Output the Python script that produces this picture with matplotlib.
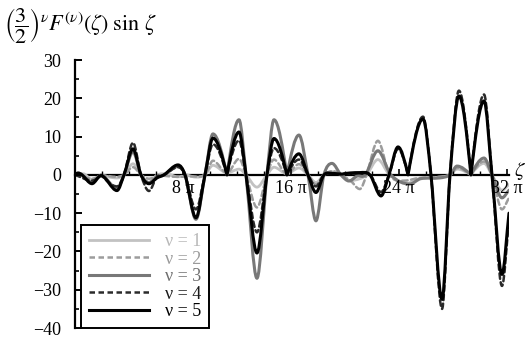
import numpy as np
import matplotlib
matplotlib.use("Agg")
import matplotlib.pyplot as plt
from matplotlib.path import Path
from matplotlib.patches import PathPatch
from matplotlib.lines import Line2D

plt.rcParams["font.family"] = "serif"
plt.rcParams["font.serif"] = ["Liberation Serif", "DejaVu Serif"]
plt.rcParams["mathtext.fontset"] = "stix"

# knots of each curve: zeta in units of pi, value at extrema / zeros
nu1_x = [0, 0.6, 1.26, 1.93, 3.11, 3.63, 4.30, 4.89, 5.48, 6.1, 6.8, 7.6, 8.3, 9.0, 9.63,
         10.22, 11.26, 12.15, 12.67, 13.48, 14.22, 14.74, 15.70, 16.59, 17.26, 17.85, 18.44,
         19.1, 19.7, 20.4, 21.1, 21.6, 22.44, 23.3, 24.6, 25.5, 27.0, 27.78, 28.3, 29.33,
         30.3, 30.89, 31.63, 32.15]
nu1_y = [0, 0.3, -1.2, 0, -0.8, 0, 2.9, 0, -2.0, 0, 0.3, -0.5, 0, -0.6, 0,
         2.5, 0.5, 1.5, 0, -3.2, 0, 2.0, 0.3, 1.8, 0, -2.0, 0,
         0.8, 0, -1.5, -1.0, 0, 4.0, 0, -2.2, -1.0, -0.6, 0, 1.5, 0,
         3.0, 0, -4.0, -2.5]

nu2_x = [0, 1.26, 1.93, 3.11, 3.63, 4.30, 4.89, 5.48, 6.1, 7.6, 8.5, 9.63,
         10.22, 11.26, 12.15, 12.67, 13.48, 14.22, 14.74, 15.70, 16.59, 17.26, 17.85, 18.44,
         19.1, 19.7, 20.4, 21.1, 21.6, 22.44, 23.3, 24.4, 25.5, 27.0, 27.78, 28.3, 29.33,
         30.3, 30.89, 31.63, 32.15]
nu2_y = [0, -1.0, 0, -0.5, 0, 2.0, 0, -1.0, 0, -0.5, -0.4, 0,
         3.7, 0.5, 4.2, 0, -8.5, 0, 4.0, 0.3, 2.8, 0, -2.5, 0,
         1.0, 0, -1.5, -3.7, 0, 8.9, 0, -1.5, -0.8, -0.5, 0, 1.8, 0,
         3.5, 0, -9.0, -6.0]

nu3_x = [0, 0.3, 1.26, 1.93, 3.11, 3.63, 4.30, 4.89, 5.48, 6.07, 6.59, 7.63, 8.15, 8.96, 9.63,
         10.22, 11.26, 12.15, 12.67, 13.48, 14.22, 14.74, 15.70, 16.59, 17.26, 17.85, 18.44,
         19.04, 19.7, 20.3, 20.9, 21.5, 22.44, 23.4, 24.8, 25.6, 27.0, 27.78, 28.3, 29.33,
         30.3, 30.89, 31.63, 32.15]
nu3_y = [0, 0.4, -2.0, -0.2, -3.5, 0, 6.0, 0, -2.0, -0.6, 0, 2.2, 0, -11.6, 0,
         10.7, 0, 14.4, 0, -27.0, 0, 14.4, 0, 10.4, 0, -12.0, 0,
         3.0, 0, -1.6, -0.3, 0, 6.3, 0, -2.4, -1.0, -0.8, 0, 2.3, 0,
         4.4, 0, -6.0, -4.0]

nu4_x = [0, 1.26, 1.93, 3.11, 3.63, 4.30, 4.89, 5.48, 6.07, 6.59, 7.63, 8.15, 8.96, 9.63,
         10.22, 11.26, 12.15, 12.67, 13.48, 14.22, 14.74, 15.70, 16.59, 17.26, 17.85, 18.44,
         19.5, 20.5, 21.85, 22.67, 23.26, 23.93, 24.67, 25.78, 26.37, 27.19, 27.78, 28.44,
         29.33, 30.30, 30.89, 31.63, 32.15]
nu4_y = [0, -1.5, 0, -3.0, 0, 8.4, 0, -4.2, -0.5, 0, 2.0, 0, -9.0, 0,
         8.0, 0, 9.0, 0, -15.0, 0, 7.0, 0, 4.0, 0, -3.0, 0,
         0.3, 0.3, 0, -4.5, 0, 6.8, 0, 15.2, 0, -35.0, 0, 22.0,
         0, 21.0, 0, -29.0, -12.0]

nu5_x = [0, 0.22, 0.52, 1.26, 1.93, 3.11, 3.63, 4.30, 4.89, 5.48, 6.07, 6.59, 7.63, 8.15,
         8.96, 9.63, 10.22, 11.26, 12.15, 12.67, 13.48, 14.22, 14.74, 15.70, 16.59, 17.26,
         17.85, 18.44, 19.04, 19.63, 20.37, 21.11, 21.85, 22.67, 23.26, 23.93, 24.67, 25.78,
         26.37, 27.19, 27.78, 28.44, 29.33, 30.30, 30.89, 31.63, 32.15]
nu5_y = [0, 0.5, 0, -2.3, -0.2, -4.1, 0, 6.8, 0, -2.3, -0.8, 0, 2.6, 0,
         -11.2, 0, 9.6, 0, 11.2, 0, -20.4, 0, 9.5, 0, 5.5, 0,
         -4.6, 0, 0.4, 0.2, 0.5, 0.6, 0, -5.5, 0, 7.3, 0, 14.6,
         0, -32.5, 0, 20.6, 0, 19.3, 0, -26.0, -10.0]

labels = ["ν = 1", "ν = 2", "ν = 3", "ν = 4", "ν = 5"]
series = [(nu1_x, nu1_y), (nu2_x, nu2_y), (nu3_x, nu3_y), (nu4_x, nu4_y), (nu5_x, nu5_y)]
colors = ["#c2c2c2", "#9c9c9c", "#787878", "#2a2a2a", "#000000"]
styles = ["-", (0, (2.2, 1.4)), "-", (0, (2.2, 1.4)), "-"]
widths = [2.0, 1.8, 2.2, 1.8, 2.2]
text_colors = ["#b8b8b8", "#9a9a9a", "#6e6e6e", "#1a1a1a", "#000000"]


def smooth_path(xs, ys):
    # cubic Bezier through the knots, flat at extrema, cusp where the curve touches zero
    xs = np.asarray(xs, float)
    ys = np.asarray(ys, float)
    n = len(xs)
    ml = np.zeros(n)
    mr = np.zeros(n)
    for i in range(n):
        if i == 0:
            ml[i] = mr[i] = (ys[1] - ys[0]) / (xs[1] - xs[0])
        elif i == n - 1:
            ml[i] = mr[i] = (ys[-1] - ys[-2]) / (xs[-1] - xs[-2])
        else:
            a = ys[i] - ys[i - 1]
            b = ys[i + 1] - ys[i]
            if ys[i] == 0 and ys[i - 1] * ys[i + 1] > 0:
                ml[i] = 1.5 * a / (xs[i] - xs[i - 1])
                mr[i] = 1.5 * b / (xs[i + 1] - xs[i])
            elif a * b <= 0:
                ml[i] = mr[i] = 0.0
            else:
                ml[i] = mr[i] = (ys[i + 1] - ys[i - 1]) / (xs[i + 1] - xs[i - 1])
    verts = [(xs[0], ys[0])]
    codes = [Path.MOVETO]
    for i in range(n - 1):
        dx = xs[i + 1] - xs[i]
        verts += [(xs[i] + dx / 3, ys[i] + mr[i] * dx / 3),
                  (xs[i + 1] - dx / 3, ys[i + 1] - ml[i + 1] * dx / 3),
                  (xs[i + 1], ys[i + 1])]
        codes += [Path.CURVE4] * 3
    return Path(verts, codes)


fig = plt.figure(figsize=(5.28, 3.41), dpi=100)
ax = fig.add_axes([0.142, 0.038, 0.822, 0.786])
ax.set_xlim(0, 32.15)
ax.set_ylim(-40, 30)

handles = []
for (xs, ys), c, ls, lw, lab in zip(series, colors, styles, widths, labels):
    patch = PathPatch(smooth_path(xs, ys), facecolor="none", edgecolor=c,
                      linestyle=ls, linewidth=lw, capstyle="round", joinstyle="round")
    ax.add_patch(patch)
    handles.append(Line2D([], [], color=c, linestyle=ls, linewidth=lw))

for s in ["top", "right"]:
    ax.spines[s].set_visible(False)
ax.spines["bottom"].set_position(("data", 0))
ax.spines["left"].set_linewidth(1.6)
ax.spines["bottom"].set_linewidth(1.6)
ax.spines["bottom"].set_zorder(0.5)

ax.set_yticks(range(-40, 31, 10))
ax.set_yticks(range(-35, 30, 10), minor=True)
ax.set_xticks([8, 16, 24, 32])
ax.set_xticklabels(["8 π", "16 π", "24 π", "32 π"])
ax.set_xticks(np.arange(2, 32, 2), minor=True)
ax.tick_params(axis="y", which="major", direction="in", length=5, width=1.4, pad=10, labelsize=13)
ax.tick_params(axis="y", which="minor", direction="in", length=3, width=1.2)
ax.tick_params(axis="x", which="major", direction="in", length=4, width=1.2, pad=4, labelsize=13)
ax.tick_params(axis="x", which="minor", direction="in", length=3, width=1.0)

leg = ax.legend(handles, labels, loc="lower left",
                bbox_to_anchor=(81 / 528, 13 / 341), bbox_transform=fig.transFigure,
                borderaxespad=0, fontsize=13, handlelength=3.3, handletextpad=0.9,
                labelspacing=0.02, borderpad=0.45, fancybox=False, framealpha=1)
leg.get_frame().set_edgecolor("black")
leg.get_frame().set_linewidth(1.4)
for t, c in zip(leg.get_texts(), text_colors):
    t.set_color(c)

fig.text(0.008, 0.925, r"$\left(\dfrac{3}{2}\right)^{\nu}F^{(\nu)}(\zeta)\;\sin\,\zeta$",
         fontsize=16, va="center", ha="left")
fig.text(514 / 528, 1 - 171 / 341, r"$\zeta$", fontsize=15, va="center", ha="left")

fig.savefig("out.png", dpi=100)
